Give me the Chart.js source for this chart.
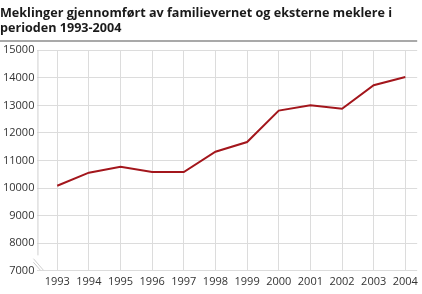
<!DOCTYPE html>
<html>
<head>
<meta charset="utf-8">
<script src="https://cdn.jsdelivr.net/npm/chart.js@4/dist/chart.umd.min.js"></script>
<style>
  html, body { margin: 0; padding: 0; background: #fff; }
  #wrap { width: 422px; height: 294px; }
</style>
</head>
<body>
<div id="wrap"><canvas id="myChart" width="422" height="294"></canvas></div>
<script>
// data
const titleLines = ['Meklinger gjennomført av familievernet og eksterne meklere i', 'perioden 1993-2004'];
const years = [1993, 1994, 1995, 1996, 1997, 1998, 1999, 2000, 2001, 2002, 2003, 2004];
const meklinger = [10085, 10560, 10775, 10585, 10580, 11320, 11670, 12810, 13000, 12880, 13730, 14030];
const yTicks = [7000, 8000, 9000, 10000, 11000, 12000, 13000, 14000, 15000];

const gridColor = '#dcdcdc';
const tickFont = { family: 'Open Sans', size: 11 };

// separator under the title, y axis line with a break near the bottom
const decorations = {
  id: 'decorations',
  afterDraw(chart) {
    const ctx = chart.ctx;
    const area = chart.chartArea;
    const y = chart.scales.y;
    ctx.save();
    ctx.strokeStyle = '#8c8c8c';
    ctx.lineWidth = 1.5;
    ctx.beginPath();
    ctx.moveTo(0, 41);
    ctx.lineTo(area.right, 41);
    ctx.stroke();

    ctx.strokeStyle = '#cfcfcf';
    ctx.lineWidth = 1;
    ctx.beginPath();
    ctx.moveTo(area.left + 0.5, area.top);
    ctx.lineTo(area.left + 0.5, y.getPixelForValue(7560));
    ctx.stroke();
    ctx.beginPath();
    ctx.moveTo(area.left - 4, y.getPixelForValue(7440));
    ctx.lineTo(area.left + 6, y.getPixelForValue(7020));
    ctx.moveTo(area.left - 4, y.getPixelForValue(7310));
    ctx.lineTo(area.left + 3, y.getPixelForValue(7020));
    ctx.stroke();
    ctx.restore();
  }
};

const chart = new Chart(document.getElementById('myChart'), {
  type: 'line',
  data: {
    datasets: [{
      label: 'Meklinger',
      data: years.map((yr, i) => ({ x: yr, y: meklinger[i] })),
      borderColor: '#a3161c',
      borderWidth: 2,
      pointRadius: 0,
      tension: 0,
      fill: false
    }]
  },
  options: {
    responsive: false,
    animation: false,
    layout: { padding: { left: 0, right: 3, top: 0, bottom: 2 } },
    scales: {
      x: {
        type: 'linear',
        min: 1992.375,
        max: 2004.375,
        afterBuildTicks: axis => { axis.ticks = years.map(v => ({ value: v })); },
        grid: { color: gridColor, drawTicks: false },
        border: { display: false },
        ticks: { font: tickFont, color: '#333', padding: 4, maxRotation: 0, autoSkip: false,
                 callback: v => String(v) }
      },
      y: {
        min: 7000,
        max: 15000,
        afterBuildTicks: axis => { axis.ticks = yTicks.map(v => ({ value: v })); },
        grid: { color: gridColor, drawTicks: false },
        border: { display: false },
        ticks: { font: tickFont, color: '#333', padding: 3, callback: v => String(v) }
      }
    },
    plugins: {
      legend: { display: false },
      tooltip: { enabled: false },
      title: {
        display: true,
        text: titleLines,
        align: 'start',
        color: '#1a1a1a',
        font: { family: 'Open Sans', size: 12.6, weight: 'bold', lineHeight: 1.2 },
        padding: { top: 6, bottom: 14 }
      }
    }
  },
  plugins: [decorations]
});
</script>
</body>
</html>
